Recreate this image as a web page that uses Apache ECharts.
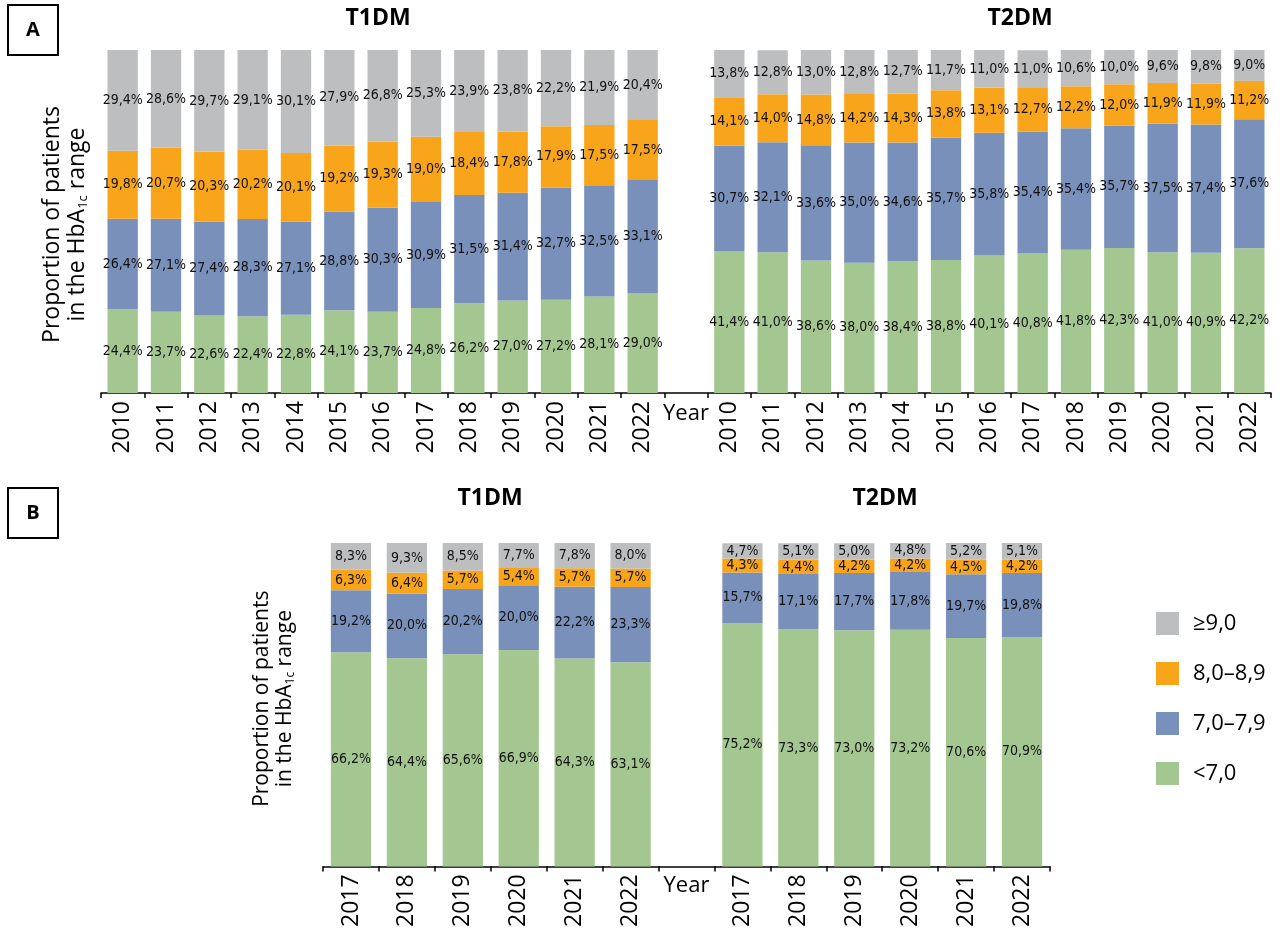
<!DOCTYPE html>
<html>
<head>
<meta charset="utf-8">
<script src="https://cdn.jsdelivr.net/npm/echarts@6/dist/echarts.min.js"></script>
<style>
html,body{margin:0;padding:0;background:#fff;}
#chart{width:1280px;height:930px;}
</style>
</head>
<body>
<div id="chart"></div>
<script>
// ---------- DATA ----------
const yearsA = ['2010','2011','2012','2013','2014','2015','2016','2017','2018','2019','2020','2021','2022'];
const yearsB = ['2017','2018','2019','2020','2021','2022'];
const seriesNames = ['<7,0', '7,0–7,9', '8,0–8,9', '≥9,0'];   // bottom to top
const legendOrder = ['≥9,0', '8,0–8,9', '7,0–7,9', '<7,0'];

// Panel A, T1DM
const a_t1_lt7   = [24.4, 23.7, 22.6, 22.4, 22.8, 24.1, 23.7, 24.8, 26.2, 27.0, 27.2, 28.1, 29.0];
const a_t1_7079  = [26.4, 27.1, 27.4, 28.3, 27.1, 28.8, 30.3, 30.9, 31.5, 31.4, 32.7, 32.5, 33.1];
const a_t1_8089  = [19.8, 20.7, 20.3, 20.2, 20.1, 19.2, 19.3, 19.0, 18.4, 17.8, 17.9, 17.5, 17.5];
const a_t1_ge9   = [29.4, 28.6, 29.7, 29.1, 30.1, 27.9, 26.8, 25.3, 23.9, 23.8, 22.2, 21.9, 20.4];
// Panel A, T2DM
const a_t2_lt7   = [41.4, 41.0, 38.6, 38.0, 38.4, 38.8, 40.1, 40.8, 41.8, 42.3, 41.0, 40.9, 42.2];
const a_t2_7079  = [30.7, 32.1, 33.6, 35.0, 34.6, 35.7, 35.8, 35.4, 35.4, 35.7, 37.5, 37.4, 37.6];
const a_t2_8089  = [14.1, 14.0, 14.8, 14.2, 14.3, 13.8, 13.1, 12.7, 12.2, 12.0, 11.9, 11.9, 11.2];
const a_t2_ge9   = [13.8, 12.8, 13.0, 12.8, 12.7, 11.7, 11.0, 11.0, 10.6, 10.0, 9.6, 9.8, 9.0];
// Panel B, T1DM
const b_t1_lt7   = [66.2, 64.4, 65.6, 66.9, 64.3, 63.1];
const b_t1_7079  = [19.2, 20.0, 20.2, 20.0, 22.2, 23.3];
const b_t1_8089  = [6.3, 6.4, 5.7, 5.4, 5.7, 5.7];
const b_t1_ge9   = [8.3, 9.3, 8.5, 7.7, 7.8, 8.0];
// Panel B, T2DM
const b_t2_lt7   = [75.2, 73.3, 73.0, 73.2, 70.6, 70.9];
const b_t2_7079  = [15.7, 17.1, 17.7, 17.8, 19.7, 19.8];
const b_t2_8089  = [4.3, 4.4, 4.2, 4.2, 4.5, 4.2];
const b_t2_ge9   = [4.7, 5.1, 5.0, 4.8, 5.2, 5.1];

// ---------- STYLE ----------
const colors = {'<7,0':'#A4C792', '7,0–7,9':'#7990BA', '8,0–8,9':'#F8A51B', '≥9,0':'#BCBEC0'};
const SANS = '"Open Sans", "Liberation Sans", sans-serif';
const NARROW = '"Liberation Sans Narrow", "DejaVu Sans Condensed", "Liberation Sans", sans-serif';

function fmt(v){ return v.toFixed(1).replace('.', ',') + '%'; }

const catsA = yearsA.map(y => 'T1 ' + y).concat([' ']).concat(yearsA.map(y => 'T2 ' + y));
const catsB = yearsB.map(y => 'T1 ' + y).concat([' ']).concat(yearsB.map(y => 'T2 ' + y));

const dataA = [
  a_t1_lt7.concat([null]).concat(a_t2_lt7),
  a_t1_7079.concat([null]).concat(a_t2_7079),
  a_t1_8089.concat([null]).concat(a_t2_8089),
  a_t1_ge9.concat([null]).concat(a_t2_ge9)
];
const dataB = [
  b_t1_lt7.concat([null]).concat(b_t2_lt7),
  b_t1_7079.concat([null]).concat(b_t2_7079),
  b_t1_8089.concat([null]).concat(b_t2_8089),
  b_t1_ge9.concat([null]).concat(b_t2_ge9)
];

function mkSeries(data, idx, stack, barWidth){
  return seriesNames.map((name, i) => ({
    type: 'bar',
    name: name,
    stack: stack,
    xAxisIndex: idx,
    yAxisIndex: idx,
    barWidth: barWidth,
    data: data[i],
    itemStyle: { color: colors[name] },
    label: {
      show: true,
      position: 'inside',
      color: '#111',
      fontFamily: NARROW,
      fontSize: 14,
      formatter: p => (p.value == null ? '' : fmt(p.value))
    },
    emphasis: { disabled: true }
  }));
}

const yName = '{a|Proportion of patients}\n{a|in the HbA}{s|1c}{a| range}';
function yNameRich(fs){
  return {
    a: { fontFamily: SANS, fontSize: fs, color: '#000', lineHeight: fs + 2 },
    s: { fontFamily: SANS, fontSize: Math.round(fs * 0.57), color: '#000', lineHeight: Math.round(fs * 0.57), padding: [fs - 9, 0, 0, 0], verticalAlign: 'bottom' }
  };
}

function xAxisCfg(idx, cats, nameGap){
  return {
    type: 'category',
    gridIndex: idx,
    data: cats,
    boundaryGap: true,
    name: 'Year',
    nameLocation: 'middle',
    nameGap: nameGap,
    nameMoveOverlap: false,
    nameTextStyle: { fontFamily: SANS, fontSize: 22, color: '#000', verticalAlign: 'top' },
    axisLine: { show: true, lineStyle: { color: '#000', width: 1.5 } },
    axisTick: { show: true, interval: 0, length: 5, lineStyle: { color: '#000', width: 1.5 } },
    axisLabel: {
      interval: 0, rotate: 90, margin: 8,
      fontFamily: SANS, fontSize: 23, color: '#000',
      formatter: v => (v.split(' ')[1] || '')
    },
    splitLine: { show: false }
  };
}
function yAxisCfg(idx, nameGap, pad, fs){
  return {
    type: 'value',
    gridIndex: idx,
    min: 0, max: 100,
    name: yName,
    nameLocation: 'middle',
    nameRotate: 90,
    nameGap: nameGap,
    nameMoveOverlap: false,
    nameTextStyle: { rich: yNameRich(fs), padding: pad },
    axisLine: { show: false },
    axisTick: { show: false },
    axisLabel: { show: false },
    splitLine: { show: false }
  };
}

const chart = echarts.init(document.getElementById('chart'), null, { renderer: 'canvas' });
chart.setOption({
  animation: false,
  backgroundColor: '#fff',
  grid: [
    { left: 101, top: 50, width: 1170, height: 343 },
    { left: 323, top: 543, width: 727, height: 326 }
  ],
  xAxis: [ xAxisCfg(0, catsA, 10), xAxisCfg(1, catsB, 8) ],
  yAxis: [ yAxisCfg(0, 11, [0, 6, 0, 0], 23), yAxisCfg(1, 26, [0, 0, 0, 12], 21) ],
  legend: {
    orient: 'vertical',
    left: 1156, top: 612,
    padding: 0,
    itemWidth: 23, itemHeight: 23, itemGap: 27,
    icon: 'rect',
    selectedMode: false,
    data: legendOrder,
    textStyle: { fontFamily: SANS, fontSize: 22, color: '#000', lineHeight: 23, padding: [0, 0, 0, 9] }
  },
  graphic: [
    { type: 'rect', shape: { x: 8, y: 5, width: 50, height: 50 }, style: { fill: '#fff', stroke: '#000', lineWidth: 2 } },
    { type: 'text', x: 33, y: 30, style: { text: 'A', align: 'center', verticalAlign: 'middle', fontFamily: SANS, fontWeight: 'bold', fontSize: 20, fill: '#000' } },
    { type: 'rect', shape: { x: 8, y: 488, width: 50, height: 50 }, style: { fill: '#fff', stroke: '#000', lineWidth: 2 } },
    { type: 'text', x: 33, y: 513, style: { text: 'B', align: 'center', verticalAlign: 'middle', fontFamily: SANS, fontWeight: 'bold', fontSize: 20, fill: '#000' } },
    { type: 'text', x: 378, y: 18, style: { text: 'T1DM', align: 'center', verticalAlign: 'middle', fontFamily: SANS, fontWeight: 'bold', fontSize: 23, fill: '#000' } },
    { type: 'text', x: 1020, y: 18, style: { text: 'T2DM', align: 'center', verticalAlign: 'middle', fontFamily: SANS, fontWeight: 'bold', fontSize: 23, fill: '#000' } },
    { type: 'text', x: 490, y: 498, style: { text: 'T1DM', align: 'center', verticalAlign: 'middle', fontFamily: SANS, fontWeight: 'bold', fontSize: 23, fill: '#000' } },
    { type: 'text', x: 885, y: 498, style: { text: 'T2DM', align: 'center', verticalAlign: 'middle', fontFamily: SANS, fontWeight: 'bold', fontSize: 23, fill: '#000' } }
  ],
  series: mkSeries(dataA, 0, 'A', '70%').concat(mkSeries(dataB, 1, 'B', '72%'))
});
</script>
</body>
</html>
